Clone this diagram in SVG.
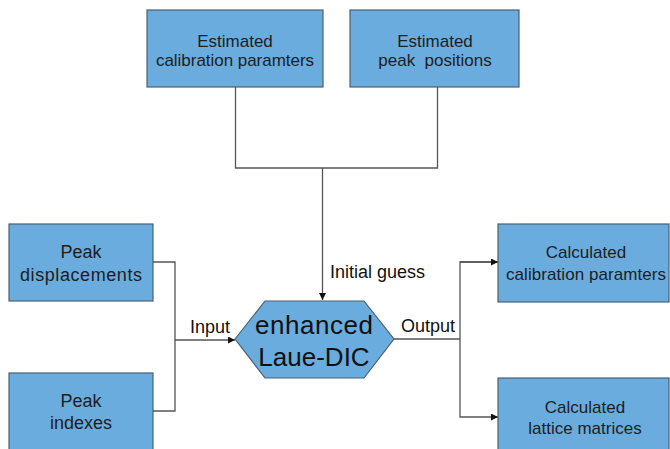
<svg xmlns="http://www.w3.org/2000/svg" width="670" height="449" viewBox="0 0 670 449">
<style>
.box{fill:#6aacdd;stroke:#4b5f70;stroke-width:1.2}
.t{font-family:"Liberation Sans",Arial,sans-serif;font-size:17px;fill:#1e1e1e;text-anchor:middle}
.lbl{font-family:"Liberation Sans",Arial,sans-serif;font-size:18px;fill:#111}
.hex{font-family:"Liberation Sans",Arial,sans-serif;font-size:26px;fill:#111;text-anchor:middle}
.c{fill:none;stroke:#555;stroke-width:1.3}
</style>
<defs>
<marker id="ah" viewBox="0 0 10 10" refX="10" refY="5" markerWidth="7" markerHeight="7" markerUnits="userSpaceOnUse" orient="auto">
<path d="M0,0 L10,5 L0,10 Z" fill="#111"/>
</marker>
</defs>
<rect width="670" height="449" fill="#fff"/>
<g id="connectors">
<path class="c" d="M235.5,87 V168 H437.5 V87"/>
<path class="c" d="M322.5,168 V300" marker-end="url(#ah)"/>
<path class="c" d="M153,262 H175 V411 H153"/>
<path class="c" d="M175,340 H235" marker-end="url(#ah)"/>
<path class="c" d="M394,339 H460"/>
<path class="c" d="M498,262 H460 V417 H498" marker-end="url(#ah)"/>
<path class="c" d="M460,262 H498" marker-end="url(#ah)"/>
</g>
<g id="est-calib">
<rect class="box" x="147" y="10" width="176" height="77"/>
<text class="t" x="235" y="47">Estimated</text>
<text class="t" x="235" y="66" textLength="158">calibration paramters</text>
</g>
<g id="est-peak">
<rect class="box" x="350" y="10" width="169" height="77"/>
<text class="t" x="435" y="47">Estimated</text>
<text class="t" x="435" y="66" xml:space="preserve">peak  positions</text>
</g>
<g id="peak-disp">
<rect class="box" x="9" y="224" width="144" height="77"/>
<text class="t" x="81" y="258" style="font-size:18px">Peak</text>
<text class="t" x="81" y="281" style="font-size:18px" textLength="122">displacements</text>
</g>
<g id="peak-idx">
<rect class="box" x="9" y="373" width="144" height="90"/>
<text class="t" x="81" y="407" style="font-size:18px">Peak</text>
<text class="t" x="81" y="429" style="font-size:18px">indexes</text>
</g>
<g id="laue-dic">
<polygon points="235,339 265,301 364,301 394,339 364,378 265,378" fill="#6aacdd" stroke="#4b5f70" stroke-width="1.2"/>
<text class="hex" x="314" y="334" textLength="118">enhanced</text>
<text class="hex" x="314" y="366">Laue-DIC</text>
</g>
<g id="calc-calib">
<rect class="box" x="498" y="224" width="171" height="78"/>
<text class="t" x="586" y="258">Calculated</text>
<text class="t" x="586" y="280" textLength="160">calibration paramters</text>
</g>
<g id="calc-lattice">
<rect class="box" x="498" y="378" width="171" height="85"/>
<text class="t" x="585" y="413">Calculated</text>
<text class="t" x="585" y="434">lattice matrices</text>
</g>
<g id="labels">
<text class="lbl" x="330" y="278">Initial guess</text>
<text class="lbl" x="190" y="333">Input</text>
<text class="lbl" x="401" y="332">Output</text>
</g>
</svg>
